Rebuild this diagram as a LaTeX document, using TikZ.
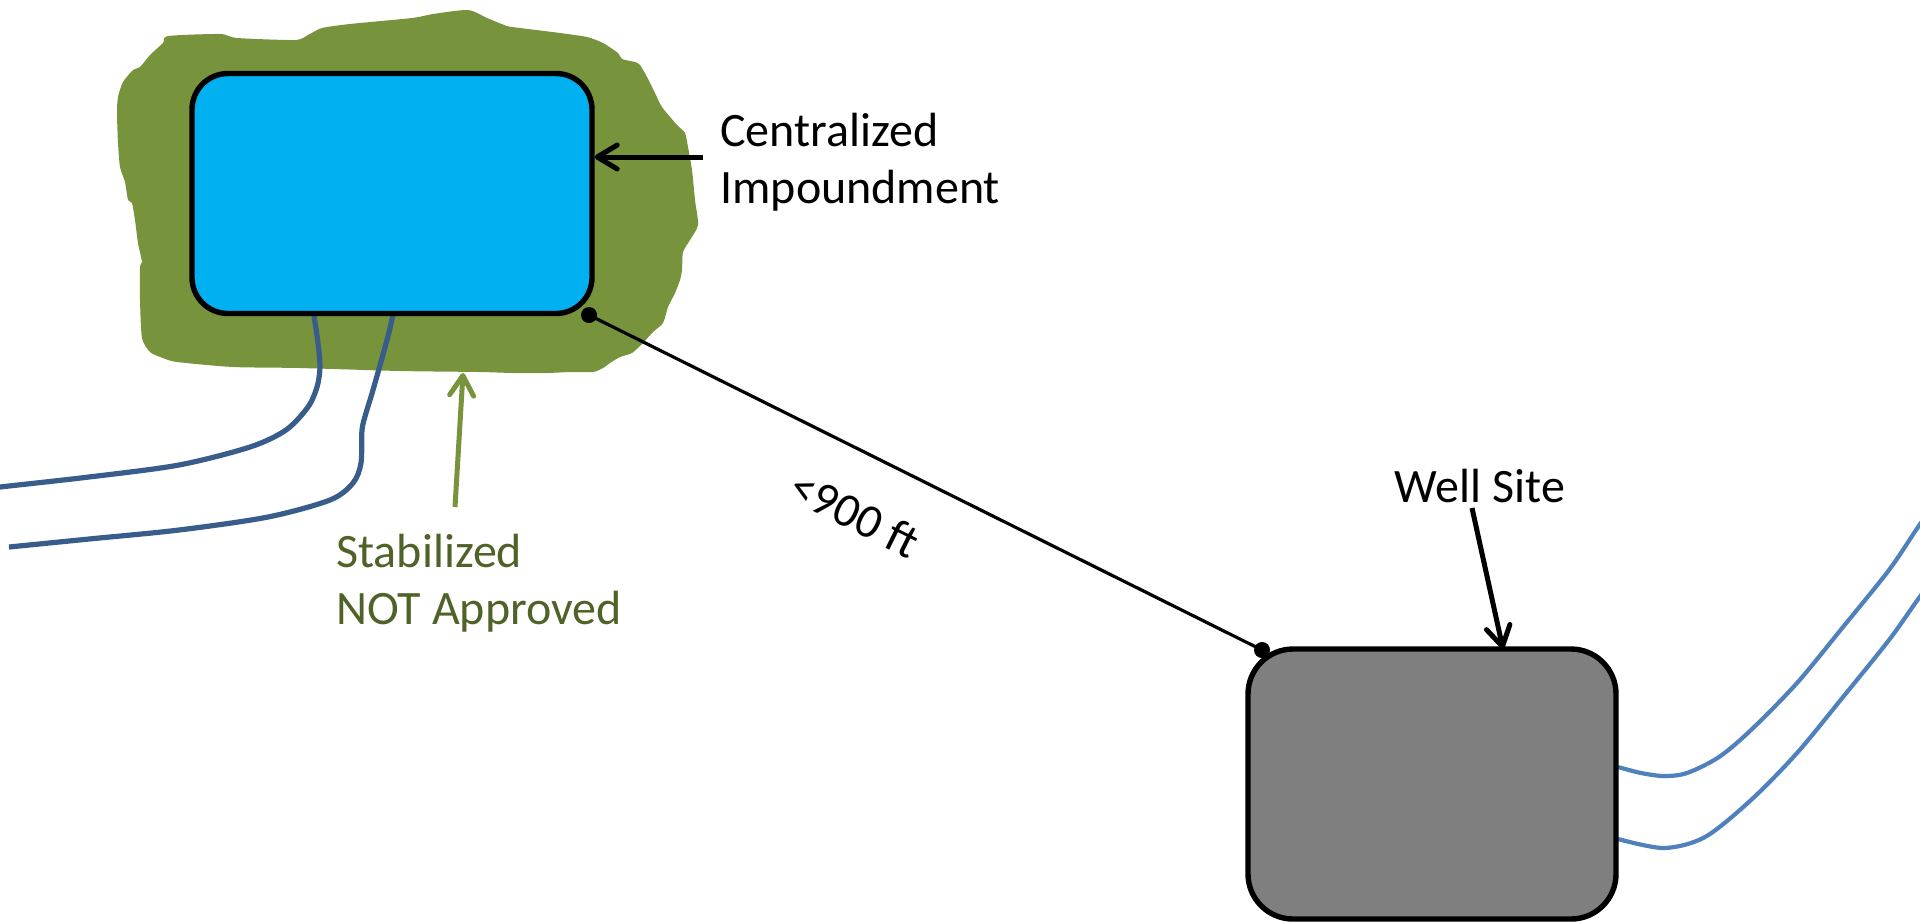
\documentclass[tikz,border=0pt]{standalone}
\usepackage{fontspec}
\setmainfont{Carlito}
\usetikzlibrary{arrows.meta}
\definecolor{pond}{HTML}{00B0F0}
\definecolor{padgray}{HTML}{7F7F7F}
\definecolor{stable}{HTML}{77933C}
\definecolor{stabletext}{HTML}{4F6228}
\definecolor{pipe}{HTML}{385D8A}
\definecolor{pipelight}{HTML}{4F81BD}
\begin{document}
\begin{tikzpicture}[x=0.5pt,y=-0.5pt,
  lbl/.style={font=\fontsize{24}{28.8}\selectfont, inner sep=0pt, align=left},
  basin/.style={draw=black, line width=2.7pt, rounded corners=18pt, fill=pond,
    minimum width=200pt, minimum height=120pt, inner sep=0pt},
  pad/.style={draw=black, line width=2.7pt, rounded corners=22.5pt, fill=padgray,
    minimum width=184pt, minimum height=135pt, inner sep=0pt},
  ptr/.style={line width=2.5pt, -{Straight Barb[length=10pt,width=12pt,round]}},
  flow/.style={line width=2.6pt, draw=pipe},
  flowlight/.style={line width=2.1pt, draw=pipelight},
  dist/.style={line width=1.6pt},
  dot/.style={circle, fill=black, inner sep=0pt, minimum size=8pt}
]
\useasboundingbox (0,0) rectangle (1920,923);
\clip (0,0) rectangle (1920,923);

% stabilized ground around the impoundment
\fill[stable] plot[smooth cycle, tension=0.4] coordinates {
  (168,36) (220,34) (237,38) (295,40) (308,35) (322,28) (350,24) (412,18)
  (433,14) (468,10) (487,18) (507,26) (520,28) (560,33) (587,37) (603,43)
  (618,53) (622,59) (635,62) (640,65) (647,77) (655,93) (662,107) (677,125)
  (685,133) (688,147) (692,170) (695,200) (698,225) (690,240) (683,252)
  (682,270) (680,280) (675,293) (668,307) (663,323) (653,332) (643,343)
  (632,353) (620,357) (610,363) (603,368) (593,372) (570,372) (547,373)
  (513,373) (480,372) (400,371) (300,368) (233,367) (177,362) (163,358)
  (150,352) (142,338) (140,300) (140,267) (142,262) (138,243) (135,220)
  (132,203) (128,200) (125,182) (120,167) (118,143) (117,113) (118,97)
  (123,82) (133,70) (140,67) (150,55) (163,43)};

% pipelines leaving the impoundment
\draw[flow] plot[smooth, tension=0.5] coordinates {
  (314,316) (318,343) (320,367) (317,387) (308,407) (286,430) (250,447)
  (179,465) (89,477) (0,487) (-6,488)};
\draw[flow] plot[smooth, tension=0.5] coordinates {
  (393,315) (387,340) (373,390) (366,413) (362,430) (361,463) (353,483)
  (330,500) (268,517) (179,530) (89,539) (9,547)};

% pipelines leaving the well site
\draw[flowlight] plot[smooth, tension=0.5] coordinates {
  (1618,767) (1641,773) (1664,776) (1687,773) (1719,757) (1751,730)
  (1797,683) (1843,627) (1889,570) (1916,530) (1930,510)};
\draw[flowlight] plot[smooth, tension=0.5] coordinates {
  (1618,839) (1664,848) (1705,837) (1751,800) (1797,753) (1843,697)
  (1889,640) (1916,602) (1930,583)};

% facilities
\node[basin] (imp) at (392,193.5) {};
\node[pad] (well) at (1432,784) {};

% labels
\node[lbl, anchor=west] (implab) at (720,162) {Centralized\\Impoundment};
\node[lbl, anchor=base] (welllab) at (1480,502) {Well Site};
\node[lbl, anchor=west, text=stabletext] (stablab) at (336,583) {Stabilized\\NOT Approved};

% pointers
\coordinate (imptail) at (703,157);
\draw[ptr] (imptail) -- (imptail -| imp.east);
\coordinate (welltail) at (1472,508);
\coordinate (welltip) at (1503,649);
\draw[ptr] (welltail) -- (welltip);
\coordinate (stabtail) at (455,507);
\coordinate (stabtip) at (463,373);
\draw[ptr, draw=stable] (stabtail) -- (stabtip);

% separation distance
\node[dot] (d1) at (589,315) {};
\node[dot] (d2) at (1262,650) {};
\draw[dist] (d1.center) -- (d2.center);
\node[lbl, rotate=-26.5] (distlab) at (855,514) {<900 ft};
\end{tikzpicture}
\end{document}
